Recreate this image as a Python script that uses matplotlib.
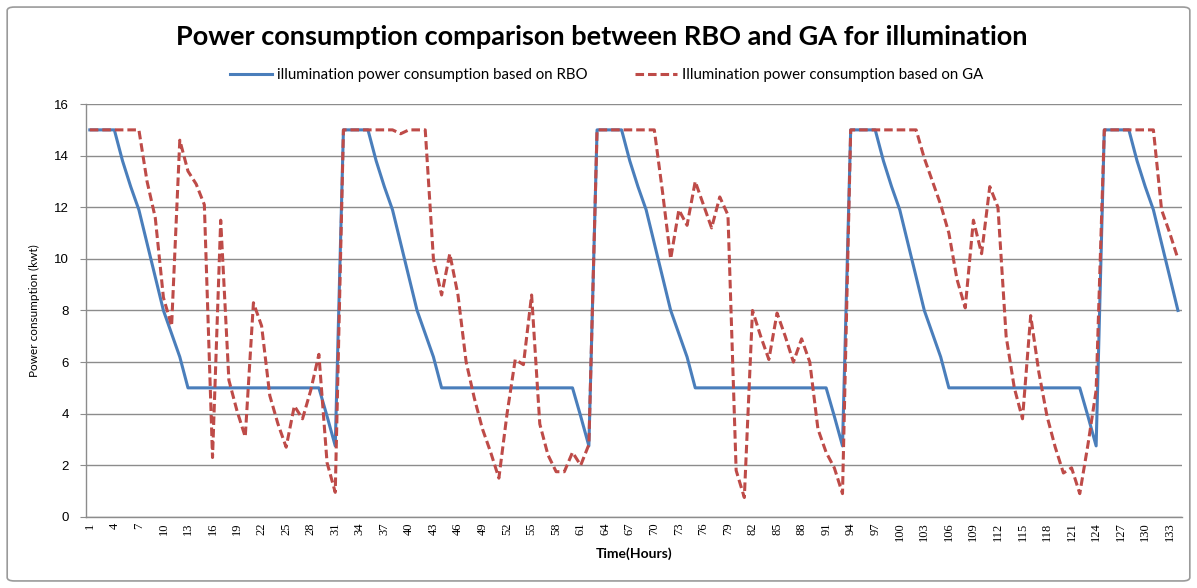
import matplotlib
matplotlib.use("Agg")
import matplotlib.pyplot as plt
from matplotlib.patches import FancyBboxPatch
import numpy as np

# ---------------------------------------------------------------------------
# Data: hourly illumination power consumption (kW) for RBO and GA
# ---------------------------------------------------------------------------

hours = np.arange(1, 135)

rbo_power = [
    # hours 1-31
    15, 15, 15, 15, 13.8, 12.8, 11.9, 10.6, 9.3, 8.0, 7.1, 6.2, 5.0,
    5, 5, 5, 5, 5, 5, 5, 5, 5, 5, 5, 5, 5, 5, 5, 5, 3.9, 2.75,
    # hours 32-62
    15, 15, 15, 15, 13.8, 12.8, 11.9, 10.6, 9.3, 8.0, 7.1, 6.2, 5.0,
    5, 5, 5, 5, 5, 5, 5, 5, 5, 5, 5, 5, 5, 5, 5, 5, 3.9, 2.75,
    # hours 63-93
    15, 15, 15, 15, 13.8, 12.8, 11.9, 10.6, 9.3, 8.0, 7.1, 6.2, 5.0,
    5, 5, 5, 5, 5, 5, 5, 5, 5, 5, 5, 5, 5, 5, 5, 5, 3.9, 2.75,
    # hours 94-124
    15, 15, 15, 15, 13.8, 12.8, 11.9, 10.6, 9.3, 8.0, 7.1, 6.2, 5.0,
    5, 5, 5, 5, 5, 5, 5, 5, 5, 5, 5, 5, 5, 5, 5, 5, 3.9, 2.75,
    # hours 125-134
    15, 15, 15, 15, 13.8, 12.8, 11.9, 10.6, 9.3, 8.0,
]

ga_power = [
    # hours 1-31
    15, 15, 15, 15, 15, 15, 15, 13.0, 11.6, 8.5, 7.4, 14.6, 13.4, 12.9,
    12.1, 2.3, 11.5, 5.3, 4.1, 3.1, 8.3, 7.4, 4.7, 3.6, 2.7, 4.3, 3.8,
    4.9, 6.3, 2.1, 0.95,
    # hours 32-62
    15, 15, 15, 15, 15, 15, 15, 14.85, 15, 15, 15, 10.0, 8.6, 10.2, 8.6,
    6.0, 4.6, 3.4, 2.5, 1.5, 4.0, 6.1, 5.9, 8.6, 3.6, 2.4, 1.75, 1.75,
    2.5, 2.0, 2.8,
    # hours 63-93
    15, 15, 15, 15, 15, 15, 15, 15, 12.6, 10.0, 11.9, 11.3, 13.0, 12.1,
    11.2, 12.4, 11.7, 1.8, 0.75, 8.0, 7.0, 6.1, 7.9, 7.0, 6.0, 6.9, 6.0,
    3.4, 2.5, 1.9, 0.9,
    # hours 94-124
    15, 15, 15, 15, 15, 15, 15, 15, 15, 13.9, 13.0, 12.1, 11.0, 9.2, 8.1,
    11.5, 10.2, 12.8, 12.0, 7.0, 5.0, 3.8, 7.8, 5.6, 3.9, 2.7, 1.7, 1.9,
    0.9, 2.8, 4.9,
    # hours 125-134
    15, 15, 15, 15, 15, 15, 15, 11.9, 11.0, 10.0,
]

x_tick_labels = [str(h) for h in range(1, 135, 3)]
y_ticks = [0, 2, 4, 6, 8, 10, 12, 14, 16]

BLUE = "#4a7ebb"
RED = "#be4b48"
GRID = "#8c8c8c"

# ---------------------------------------------------------------------------
# Figure
# ---------------------------------------------------------------------------

fig = plt.figure(figsize=(11.97, 5.88), dpi=100)
ax = fig.add_axes([0.0716, 0.121, 0.9159, 0.702])

# chart border
fig.patches.append(FancyBboxPatch(
    (0.006, 0.012), 0.988, 0.976, boxstyle="round,pad=0,rounding_size=0.006",
    transform=fig.transFigure, facecolor="none", edgecolor="#9a9a9a",
    linewidth=1.2))

ax.plot(hours, rbo_power, color=BLUE, linewidth=2.2,
        label="illumination power consumption based on RBO")
ax.plot(hours, ga_power, color=RED, linewidth=2.2, dashes=(2.8, 1.3),
        label="Illumination power consumption based on GA")

ax.set_xlim(0.5, 134.5)
ax.set_ylim(0, 16)
ax.set_yticks(y_ticks)
ax.set_yticklabels([str(v) for v in y_ticks], fontsize=9.5,
                   fontfamily="Liberation Sans")
ax.set_xticks(list(range(1, 135, 3)))
ax.set_xticklabels(x_tick_labels, rotation=90, fontsize=9,
                   fontfamily="Liberation Serif")
ax.tick_params(axis="x", length=0, pad=4)
ax.tick_params(axis="y", length=4, color=GRID, pad=8)

ax.grid(axis="y", color=GRID, linewidth=1.0)
ax.set_axisbelow(True)
for side in ("top", "right"):
    ax.spines[side].set_visible(False)
for side in ("left", "bottom"):
    ax.spines[side].set_color(GRID)
    ax.spines[side].set_linewidth(1.0)

ax.set_ylabel("Power consumption (kwt)", fontsize=8.5, fontfamily="Lato",
              labelpad=10)
ax.set_xlabel("Time(Hours)", fontsize=10, fontweight="bold",
              fontfamily="Lato", labelpad=4)

fig.text(0.503, 0.937, "Power consumption comparison between RBO and GA for illumination",
         ha="center", va="center", fontsize=19.5, fontweight="bold",
         fontfamily="Lato")

ax.legend(loc="center", bbox_to_anchor=(0.475, 1.07), ncol=2, frameon=False,
          prop={"family": "Lato", "size": 10.8},
          handlelength=2.8, columnspacing=3.2, handletextpad=0.3)

fig.savefig("out.png", dpi=100)
plt.close(fig)
